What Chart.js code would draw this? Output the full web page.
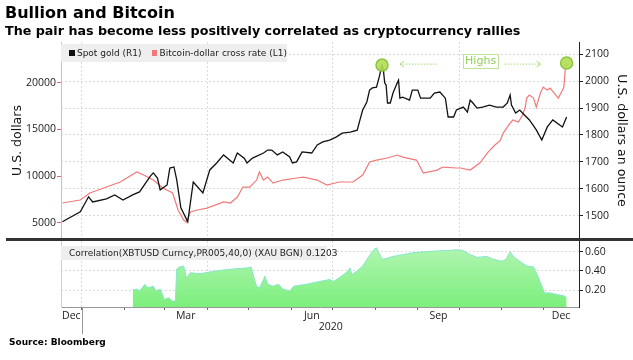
<!DOCTYPE html>
<html>
<head>
<meta charset="utf-8">
<script src="https://cdn.jsdelivr.net/npm/chart.js@4.4.0/dist/chart.umd.min.js"></script>
<style>
  html, body { margin: 0; padding: 0; background: #fff; }
  #wrap { position: relative; width: 633px; height: 360px; overflow: hidden; font-family: "DejaVu Sans", sans-serif; }
  canvas { position: absolute; left: 0; top: 0; }
  .title { position: absolute; left: 5px; top: 5px; font-weight: bold; font-size: 16px; line-height: 16px; color: #000; white-space: nowrap; }
  .subtitle { position: absolute; left: 5px; top: 24px; font-weight: bold; font-size: 12.7px; line-height: 13px; color: #000; white-space: nowrap; }
  .source { position: absolute; left: 9px; top: 338px; font-weight: bold; font-size: 9px; line-height: 9px; color: #000; }
  .legend { position: absolute; background: #eeeeee; font-size: 9px; line-height: 9px; color: #222; display: flex; align-items: center; padding-left: 8px; box-sizing: border-box; white-space: nowrap; }
  .sw { display: inline-block; width: 6px; height: 6px; margin-right: 2px; }
  .sep { position: absolute; left: 6px; top: 238px; width: 627px; height: 3px; background: #333; }
</style>
</head>
<body>
<div id="wrap">
  <canvas id="topChart" width="633" height="360"></canvas>
  <canvas id="bottomChart" width="633" height="360"></canvas>
  <div class="title">Bullion and Bitcoin</div>
  <div class="subtitle">The pair has become less positively correlated as cryptocurrency rallies</div>
  <div class="legend" style="left:61px;top:44px;width:226px;height:18px;">
    <span class="sw" style="background:#111;"></span>Spot gold (R1)
    <span class="sw" style="background:#f07a7a;margin-left:10px;"></span>Bitcoin-dollar cross rate (L1)
  </div>
  <div class="legend" style="left:61px;top:246px;width:266px;height:14px;padding-left:6px;">
    <span class="sw" style="background:#33e6e0;"></span>Correlation(XBTUSD Curncy,PR005,40,0) (XAU BGN) 0.1203
  </div>
  <div class="sep"></div>
  <div class="source">Source: Bloomberg</div>
</div>
<script>
/* =========================
   DATA (x = days from 1 Jan 2020)
========================= */
const goldDays = [-14,-1,5,8,18,24,30,37,42,50,52,55,57,62,64,67,69,72,77,81,88,93,98,103,110,113,118,120,124,132,135,138,142,146,151,153,156,160,167,171,175,180,185,189,195,200,202,204,207,209,211,214,216,218,219,220,221,222,224,226,229,230,231,233,238,240,244,246,253,256,260,264,266,270,272,277,280,282,284,287,291,296,301,306,309,311,312,315,318,320,325,330,334,338,342,347,349,352];
const goldValues = [1477,1514,1570,1551,1562,1577,1558,1577,1588,1648,1659,1640,1596,1614,1677,1681,1633,1529,1477,1625,1584,1670,1696,1726,1696,1733,1714,1696,1714,1733,1744,1744,1726,1737,1718,1696,1700,1737,1733,1763,1774,1781,1793,1807,1811,1818,1856,1893,1923,1967,1975,1978,2016,2060,2042,1993,1986,1919,1919,1956,1993,2004,1937,1941,1930,1967,1967,1937,1937,1956,1960,1937,1867,1867,1893,1904,1885,1930,1919,1900,1904,1911,1904,1904,1919,1949,1911,1882,1893,1882,1856,1819,1781,1830,1856,1837,1830,1867];

const btcDays = [-14,-1,6,18,28,40,45,52,59,66,70,74,76,79,84,91,103,108,113,117,122,127,129,132,135,139,146,156,161,171,178,187,197,204,209,214,222,229,233,243,248,258,262,272,275,282,289,295,300,304,306,311,313,317,320,322,323,325,328,330,333,335,338,340,343,346,349,350,351,352];
const btcValues = [7110,7430,8180,8820,9360,10430,10110,9570,8720,8180,6360,5290,5070,6150,6360,6570,7220,7110,7750,8820,8820,9570,10430,9570,9890,9250,9570,9790,9890,9570,9040,9360,9360,10110,11500,11710,11930,12250,12030,11710,10320,10640,10960,10860,10860,10640,11390,12570,13320,13850,14600,15670,16000,15780,16530,17390,18350,18670,18350,17390,18890,19530,19210,19420,18890,18350,19210,19530,21350,22100];

const corrDays = [37,40,42,46,48,52,54,57,60,63,66,68,69,71,74,76,79,86,98,110,120,123,125,127,129,132,133,135,139,143,146,151,154,163,173,180,183,187,192,195,196,200,204,208,212,214,217,219,226,241,260,265,272,277,282,287,294,299,305,308,311,314,318,323,328,331,336,340,346,350,352];
const corrValues = [0.20,0.21,0.19,0.26,0.22,0.24,0.19,0.21,0.10,0.12,0.085,0.085,0.42,0.44,0.45,0.33,0.38,0.37,0.40,0.42,0.43,0.44,0.33,0.24,0.22,0.31,0.345,0.26,0.24,0.26,0.21,0.19,0.24,0.26,0.29,0.31,0.29,0.33,0.38,0.43,0.36,0.40,0.45,0.54,0.62,0.64,0.55,0.52,0.55,0.59,0.61,0.61,0.62,0.61,0.57,0.54,0.55,0.52,0.50,0.52,0.60,0.54,0.50,0.45,0.44,0.35,0.17,0.17,0.15,0.14,0.12];

/* =========================
   TICKS / LABELS
========================= */
const monthStarts = [0,31,60,91,121,152,182,213,244,274,305,335];
const quarterStarts = [0,91,182,274];
const monthLabelDays = [-7.5,75.5,167,259,348];
const monthLabels = ["Dec","Mar","Jun","Sep","Dec"];
const yearLabel = "2020";
const leftTicks = [5000,10000,15000,20000];
const rightTicks = [1500,1600,1700,1800,1900,2000,2100];
const corrTicks = [0.2,0.4,0.6];

const X_MIN = -15, X_MAX = 361;

function pairs(xs, ys) {
  return xs.map((x, i) => ({ x: x, y: ys[i] }));
}
function highOf(xs, ys) {
  let k = 0;
  ys.forEach((v, i) => { if (v > ys[k]) k = i; });
  return { x: xs[k], y: ys[k] };
}
const goldHigh = highOf(goldDays, goldValues);
const btcHigh = highOf(btcDays, btcValues);

const tickFont = { family: "Open Sans", size: 10.5 };
const GRID = "#dadada";

/* =========================
   HIGHS ANNOTATION
========================= */
const highsPlugin = {
  id: "highs",
  afterDatasetsDraw(chart) {
    const { ctx, scales } = chart;
    const gx = scales.x.getPixelForValue(goldHigh.x);
    const gy = scales.yR.getPixelForValue(goldHigh.y);
    const bx = scales.x.getPixelForValue(btcHigh.x);
    const y = gy - 1;
    ctx.save();
    ctx.strokeStyle = "#a8d874";
    ctx.lineWidth = 1;
    ctx.setLineDash([1.5, 1.5]);
    ctx.beginPath();
    ctx.moveTo(gx + 18, y); ctx.lineTo(gx + 55, y);
    ctx.moveTo(bx - 62, y); ctx.lineTo(bx - 26, y);
    ctx.stroke();
    ctx.setLineDash([]);
    ctx.beginPath();
    ctx.moveTo(gx + 22, y - 3); ctx.lineTo(gx + 18, y); ctx.lineTo(gx + 22, y + 3);
    ctx.moveTo(bx - 30, y - 3); ctx.lineTo(bx - 26, y); ctx.lineTo(bx - 30, y + 3);
    ctx.stroke();
    // label box
    const tx = bx - 86;
    ctx.font = "11px 'DejaVu Sans'";
    ctx.textAlign = "center";
    ctx.textBaseline = "middle";
    const w = ctx.measureText("Highs").width + 4;
    ctx.strokeStyle = "#bfe39a";
    ctx.strokeRect(Math.round(tx - w / 2) + 0.5, Math.round(y - 10) + 0.5, Math.round(w), 14);
    ctx.fillStyle = "#95cf5a";
    ctx.fillText("Highs", tx, y - 3);
    ctx.restore();
  }
};

/* =========================
   TOP PANEL
========================= */
new Chart(document.getElementById("topChart"), {
  type: "line",
  data: {
    datasets: [
      {
        type: "scatter",
        data: [goldHigh],
        yAxisID: "yR",
        pointRadius: 6,
        pointBackgroundColor: "rgba(176,222,84,0.9)",
        pointBorderColor: "#8cc63f",
        pointBorderWidth: 1.5,
        order: 0
      },
      {
        type: "scatter",
        data: [btcHigh],
        yAxisID: "yL",
        pointRadius: 6,
        pointBackgroundColor: "rgba(176,222,84,0.9)",
        pointBorderColor: "#8cc63f",
        pointBorderWidth: 1.5,
        order: 0
      },
      {
        label: "Spot gold (R1)",
        data: pairs(goldDays, goldValues),
        yAxisID: "yR",
        borderColor: "#111",
        borderWidth: 1.3,
        pointRadius: 0,
        tension: 0,
        order: 1
      },
      {
        label: "Bitcoin-dollar cross rate (L1)",
        data: pairs(btcDays, btcValues),
        yAxisID: "yL",
        borderColor: "#f07a7a",
        borderWidth: 1.2,
        pointRadius: 0,
        tension: 0,
        order: 2
      }
    ]
  },
  options: {
    responsive: false,
    animation: false,
    devicePixelRatio: 1,
    layout: { padding: { top: 42, bottom: 121, left: 0, right: 0 } },
    plugins: { legend: { display: false }, tooltip: { enabled: false } },
    scales: {
      x: {
        type: "linear",
        min: X_MIN,
        max: X_MAX,
        afterBuildTicks: s => { s.ticks = quarterStarts.map(v => ({ value: v })); },
        afterFit: s => { s.height = 0; },
        ticks: { display: false },
        grid: { color: GRID, drawTicks: false },
        border: { display: false, dash: [2, 2] }
      },
      yL: {
        position: "left",
        min: 3255,
        max: 24358,
        afterBuildTicks: s => { s.ticks = leftTicks.map(v => ({ value: v })); },
        afterFit: s => { s.width = 61; },
        ticks: { color: "#222", font: tickFont, padding: 1, callback: v => String(v) },
        grid: { drawOnChartArea: false, tickLength: 4, tickColor: "#e06a6a" },
        border: { color: "#f4b0b0" },
        title: {
          display: true,
          text: "U.S. dollars",
          color: "#111",
          font: { family: "DejaVu Sans", size: 12.5 },
          padding: { top: 10, bottom: 0 }
        }
      },
      yR: {
        position: "right",
        min: 1413,
        max: 2146,
        afterBuildTicks: s => { s.ticks = rightTicks.map(v => ({ value: v })); },
        afterFit: s => { s.width = 54; },
        ticks: { color: "#222", font: tickFont, padding: 2, callback: v => String(v) },
        grid: { color: GRID, tickLength: 4, tickColor: "#222" },
        border: { color: "#222", dash: [2, 2] },
        title: {
          display: true,
          text: "U.S. dollars an ounce",
          color: "#111",
          font: { family: "DejaVu Sans", size: 12.5 },
          padding: { top: 4, bottom: 0 }
        }
      }
    }
  },
  plugins: [highsPlugin]
});

/* =========================
   BOTTOM PANEL
========================= */
const yearPlugin = {
  id: "year",
  afterDraw(chart) {
    const { ctx, scales, chartArea } = chart;
    const x0 = Math.round(scales.x.getPixelForValue(0)) + 0.5;
    ctx.save();
    ctx.strokeStyle = "#999";
    ctx.lineWidth = 1;
    ctx.beginPath();
    ctx.moveTo(x0, chartArea.bottom);
    ctx.lineTo(x0, chartArea.bottom + 27);
    ctx.stroke();
    ctx.fillStyle = "#222";
    ctx.font = "10.5px 'Open Sans'";
    ctx.textAlign = "center";
    ctx.textBaseline = "middle";
    ctx.fillText(yearLabel, (x0 + chartArea.right) / 2, chartArea.bottom + 20);
    ctx.restore();
  }
};

new Chart(document.getElementById("bottomChart"), {
  type: "line",
  data: {
    datasets: [{
      label: "Correlation(XBTUSD Curncy,PR005,40,0) (XAU BGN)",
      data: pairs(corrDays, corrValues),
      yAxisID: "yC",
      borderColor: "#86e6cc",
      borderWidth: 1,
      pointRadius: 0,
      tension: 0,
      fill: "start",
      backgroundColor: c => {
        const area = c.chart.chartArea;
        if (!area) return "#9ef29e";
        const g = c.chart.ctx.createLinearGradient(0, area.top, 0, area.bottom);
        g.addColorStop(0, "#b6f6b6");
        g.addColorStop(1, "#7cef7c");
        return g;
      }
    }]
  },
  options: {
    responsive: false,
    animation: false,
    devicePixelRatio: 1,
    layout: { padding: { top: 241, bottom: 0, left: 0, right: 0 } },
    plugins: { legend: { display: false }, tooltip: { enabled: false } },
    scales: {
      x: {
        type: "linear",
        min: X_MIN,
        max: X_MAX,
        afterBuildTicks: s => {
          s.ticks = monthStarts.concat(monthLabelDays)
            .sort((a, b) => a - b)
            .map(v => ({ value: v }));
        },
        afterFit: s => { s.height = 53; },
        ticks: {
          autoSkip: false,
          maxRotation: 0,
          color: "#222",
          font: tickFont,
          padding: 0,
          callback: v => {
            const k = monthLabelDays.indexOf(v);
            return k >= 0 ? monthLabels[k] : "";
          }
        },
        grid: {
          tickLength: 3,
          color: c => (c.tick && quarterStarts.includes(c.tick.value)) ? GRID : "rgba(0,0,0,0)",
          tickColor: c => (c.tick && monthStarts.includes(c.tick.value)) ? "#666" : "rgba(0,0,0,0)"
        },
        border: { color: "#999", dash: [2, 2] }
      },
      yl: {
        position: "left",
        min: 0,
        max: 1,
        afterFit: s => { s.width = 61; },
        ticks: { display: false },
        grid: { display: false },
        border: { color: "#d0d0d0" }
      },
      yC: {
        position: "right",
        min: 0.023,
        max: 0.711,
        afterBuildTicks: s => { s.ticks = corrTicks.map(v => ({ value: v })); },
        afterFit: s => { s.width = 54; },
        ticks: { color: "#222", font: tickFont, padding: 2, callback: v => v.toFixed(2) },
        grid: { color: GRID, tickLength: 4, tickColor: "#222" },
        border: { color: "#222", dash: [2, 2] }
      }
    }
  },
  plugins: [yearPlugin]
});
</script>
</body>
</html>
